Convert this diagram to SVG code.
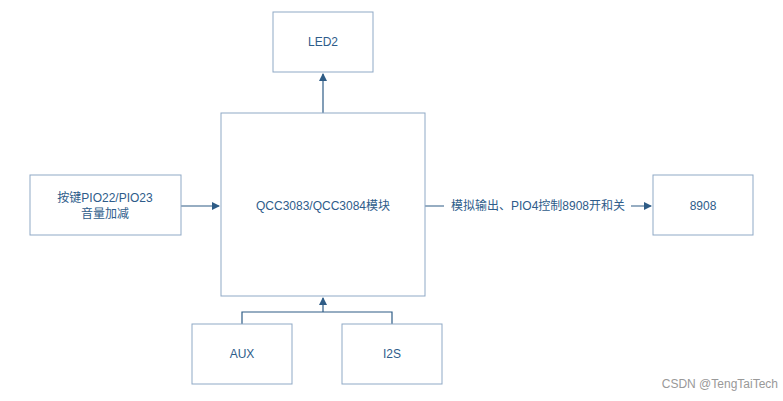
<svg xmlns="http://www.w3.org/2000/svg" width="783" height="401" viewBox="0 0 783 401">
<style>
.b{fill:#fff;stroke:#8fa9c6;stroke-width:1}
.t{font-family:"Liberation Sans","Noto Sans CJK SC",sans-serif;font-size:12px;fill:#2e5c8a;text-anchor:middle;dominant-baseline:central}
.c{fill:none;stroke:#2e5c86;stroke-width:1.2}
</style>
<defs><marker id="a" markerWidth="8" markerHeight="8" refX="7" refY="4" orient="auto" markerUnits="userSpaceOnUse"><path d="M0,0L8,4L0,8z" fill="#2e5c86"/></marker></defs>
<rect width="783" height="401" fill="#fff"/>
<g id="connectors">
<path class="c" d="M323,113V74" marker-end="url(#a)"/>
<path class="c" d="M181,206H219" marker-end="url(#a)"/>
<path class="c" d="M425,206H444M631,206H651" marker-end="url(#a)"/>
<path class="c" d="M242,324V312H392V324M323,312V298" marker-end="url(#a)"/>
</g>
<g id="led2"><rect class="b" x="273" y="12" width="100" height="60"/><text class="t" x="323" y="42">LED2</text></g>
<g id="main"><rect class="b" x="221" y="113" width="204" height="183"/><text class="t" x="323" y="206">QCC3083/QCC3084模块</text></g>
<g id="keys"><rect class="b" x="30" y="175" width="151" height="60"/><text class="t" x="105" y="198">按键PIO22/PIO23</text><text class="t" x="105" y="214">音量加减</text></g>
<g id="n8908"><rect class="b" x="653" y="175" width="100" height="60"/><text class="t" x="703" y="206">8908</text></g>
<g id="aux"><rect class="b" x="192" y="324" width="100" height="60"/><text class="t" x="242" y="354">AUX</text></g>
<g id="i2s"><rect class="b" x="342" y="324" width="100" height="60"/><text class="t" x="392" y="354">I2S</text></g>
<g id="label"><text class="t" x="538" y="206">模拟输出、PIO4控制8908开和关</text></g>
<text x="778" y="388" font-family="Liberation Sans,sans-serif" font-size="12" fill="#999" text-anchor="end">CSDN @TengTaiTech</text>
</svg>
